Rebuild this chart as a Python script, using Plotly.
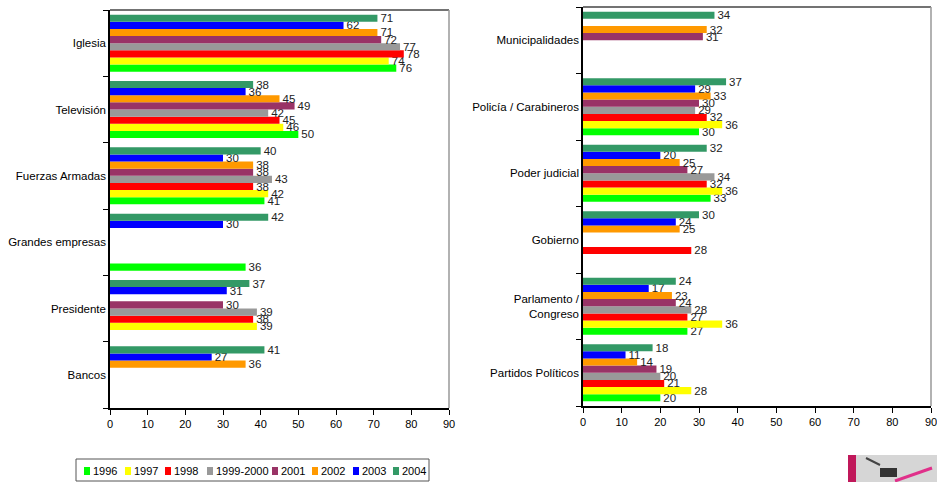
import plotly.graph_objects as go

years = ["1996", "1997", "1998", "1999-2000", "2001", "2002", "2003", "2004"]
colors = ["#00FF00", "#FFFF00", "#FF0000", "#999999", "#993366", "#FF9900", "#0000FF", "#339966"]

left_cats = ["Iglesia", "Televisión", "Fuerzas Armadas", "Grandes empresas", "Presidente", "Bancos"]
right_cats = ["Municipalidades", "Policía / Carabineros", "Poder judicial", "Gobierno",
              "Parlamento /<br>Congreso", "Partidos Políticos"]

# values per year, in category order (None = no data)
left_vals = {
    "1996":      [76, 50, 41, 36, None, None],
    "1997":      [74, 46, 42, None, 39, None],
    "1998":      [78, 45, 38, None, 38, None],
    "1999-2000": [77, 42, 43, None, 39, None],
    "2001":      [72, 49, 38, None, 30, None],
    "2002":      [71, 45, 38, None, None, 36],
    "2003":      [62, 36, 30, 30, 31, 27],
    "2004":      [71, 38, 40, 42, 37, 41],
}
right_vals = {
    "1996":      [None, 30, 33, None, 27, 20],
    "1997":      [None, 36, 36, None, 36, 28],
    "1998":      [None, 32, 32, 28, 27, 21],
    "1999-2000": [None, 29, 34, None, 28, 20],
    "2001":      [31, 30, 27, None, 24, 19],
    "2002":      [32, 33, 25, 25, 23, 14],
    "2003":      [None, 29, 20, 24, 17, 11],
    "2004":      [34, 37, 32, 30, 24, 18],
}
x_ticks = [0, 10, 20, 30, 40, 50, 60, 70, 80, 90]

FONT = "Liberation Sans Narrow, Arial Narrow, Liberation Sans, Arial, sans-serif"
W, H = 937, 482

fig = go.Figure()
for yr, col in zip(years, colors):
    for vals, cats, xa, ya in [(left_vals, left_cats, "x", "y"),
                               (right_vals, right_cats, "x2", "y2")]:
        v = vals[yr]
        fig.add_trace(go.Bar(
            x=v, y=cats, orientation="h", name=yr, showlegend=False,
            marker=dict(color=col, line=dict(width=0)),
            text=[("" if a is None else str(a)) for a in v],
            textposition="outside", constraintext="none", cliponaxis=False,
            textfont=dict(family=FONT, size=11.5, color="#222222"),
            xaxis=xa, yaxis=ya,
        ))

axis_common = dict(showline=True, linecolor="black", linewidth=1.5, showgrid=False,
                   zeroline=False, ticks="outside", ticklen=5, tickcolor="black",
                   automargin=False, ticklabeloverflow="allow")

fig.update_layout(
    width=W, height=H,
    margin=dict(l=0, r=0, t=0, b=0),
    paper_bgcolor="white", plot_bgcolor="white",
    barmode="group", bargap=0.14, bargroupgap=0,
    font=dict(family=FONT, size=11, color="black"),
    showlegend=False,
    xaxis=dict(domain=[110/W, 449/W], range=[0, 90], tickvals=x_ticks, anchor="y",
               tickfont=dict(family=FONT, size=11, color="black"), **axis_common),
    yaxis=dict(domain=[1-408/H, 1-10/H], type="category",
               categoryorder="array", categoryarray=left_cats[::-1],
               tickson="boundaries", anchor="x",
               tickfont=dict(family=FONT, size=11.5, color="black"), **axis_common),
    xaxis2=dict(domain=[583/W, 931/W], range=[0, 90], tickvals=x_ticks, anchor="y2",
                tickfont=dict(family=FONT, size=11, color="black"), **axis_common),
    yaxis2=dict(domain=[1-406/H, 1-7/H], type="category",
                categoryorder="array", categoryarray=right_cats[::-1],
                tickson="boundaries", anchor="x2",
                tickfont=dict(family=FONT, size=11.5, color="black"), **axis_common),
)

def px(x):
    return x / W

def py(y):
    return 1 - y / H

shapes = []
annotations = []
# gray top/right frame lines
for xr, yr_ in [("x domain", "y domain"), ("x2 domain", "y2 domain")]:
    shapes.append(dict(type="line", xref=xr, yref=yr_, x0=0, x1=1, y0=1, y1=1,
                       line=dict(color="#444444", width=1.5)))
    shapes.append(dict(type="line", xref=xr, yref=yr_, x0=1, x1=1, y0=0, y1=1,
                       line=dict(color="#999999", width=1.5)))

# manual compact legend (box + swatches + labels)
shapes.append(dict(type="rect", xref="paper", yref="paper", x0=px(76), x1=px(429),
                   y0=py(481), y1=py(459), line=dict(color="#555555", width=1),
                   fillcolor="white"))
swatch_x = [84, 125, 165, 207, 272, 312, 353, 393]
for yr, col, sx in zip(years, colors, swatch_x):
    shapes.append(dict(type="rect", xref="paper", yref="paper", x0=px(sx), x1=px(sx + 6),
                       y0=py(475), y1=py(467), fillcolor=col, line=dict(width=0)))
    annotations.append(dict(text=yr, xref="paper", yref="paper", x=px(sx + 7), y=py(471),
                            xanchor="left", yanchor="middle", showarrow=False,
                            font=dict(family=FONT, size=11, color="black")))

# small logo fragment at bottom right
shapes.append(dict(type="rect", xref="paper", yref="paper", x0=px(856), x1=px(937),
                   y0=py(482), y1=py(455), fillcolor="#d6d6d6", line=dict(width=0)))
shapes.append(dict(type="rect", xref="paper", yref="paper", x0=px(848), x1=px(856),
                   y0=py(482), y1=py(455), fillcolor="#c0185a", line=dict(width=0)))
shapes.append(dict(type="rect", xref="paper", yref="paper", x0=px(880), x1=px(897),
                   y0=py(477), y1=py(468), fillcolor="#333333", line=dict(width=0)))
shapes.append(dict(type="line", xref="paper", yref="paper", x0=px(866), x1=px(880),
                   y0=py(458), y1=py(465), line=dict(color="#444444", width=2)))
shapes.append(dict(type="line", xref="paper", yref="paper", x0=px(895), x1=px(932),
                   y0=py(481), y1=py(468), line=dict(color="#e0308a", width=3)))
fig.update_layout(shapes=shapes, annotations=annotations)

fig.write_html(
    "out.html",
    config={"displayModeBar": False},
    post_script="document.body.style.margin='0';document.body.style.padding='0';"
                "document.documentElement.style.overflow='hidden';",
)
